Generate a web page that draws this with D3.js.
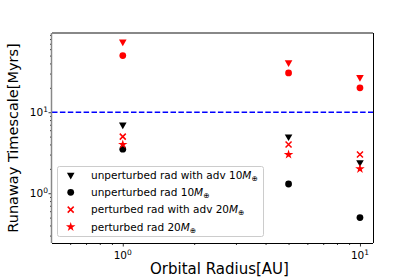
<!DOCTYPE html>
<html>
<head>
<meta charset="utf-8">
<script src="https://cdn.jsdelivr.net/npm/d3@7"></script>
<style>
  body { margin: 0; background: #fff; }
  text { font-family: "DejaVu Sans", sans-serif; }
</style>
</head>
<body>
<div id="chart"></div>
<script>
// orbital radii [AU]
const radii = [1, 5, 10];
// runaway timescales [Myrs]
const unpertAdv10 = [7, 5, 2.4];
const unpert10 = [3.5, 1.3, 0.5];
const pertAdv20 = [5, 4, 3];
const pert20 = [4, 3, 2];
const redTriangles = [74, 41, 27];
const redCircles = [50, 30.5, 20];
const threshold = 10;
const xTicks = [1, 10];
const yTicks = [1, 10];

const legendItems = [
    { shape: "tri", color: "#000", label: "unperturbed rad with adv 10" },
    { shape: "circle", color: "#000", label: "unperturbed rad 10" },
    { shape: "x", color: "#ff0000", label: "perturbed rad with adv 20" },
    { shape: "star", color: "#ff0000", label: "perturbed rad 20" }
];

const W = 415, H = 277;
const m = { left: 52, right: 373, top: 33, bottom: 243 };

const svg = d3.select("#chart").append("svg").attr("width", W).attr("height", H);

const x = d3.scaleLog().domain([0.503, 11.35]).range([m.left, m.right]);
const y = d3.scaleLog().domain([0.243, 95]).range([m.bottom, m.top]);

const sym = {
    tri: d3.symbol().type(d3.symbolTriangle).size(25),
    circle: d3.symbol().type(d3.symbolCircle).size(36),
    star: d3.symbol().type(d3.symbolStar).size(28)
};

function drawMarker(g, shape, color, cx, cy) {
    if (shape === "x") {
        const s = 3;
        g.append("path")
            .attr("d", `M${cx - s},${cy - s}L${cx + s},${cy + s}M${cx - s},${cy + s}L${cx + s},${cy - s}`)
            .attr("stroke", color).attr("stroke-width", 1.5).attr("fill", "none");
    } else {
        const rot = shape === "tri" ? " rotate(180)" : "";
        g.append("path").attr("d", sym[shape]())
            .attr("transform", `translate(${cx},${cy})${rot}`)
            .attr("fill", color);
    }
}

// axes
const xAxis = d3.axisBottom(x).tickValues(xTicks).tickFormat(() => "").tickSize(3.5);
const xMinor = d3.axisBottom(x)
    .tickValues([0.6, 0.7, 0.8, 0.9, 2, 3, 4, 5, 6, 7, 8, 9]).tickFormat(() => "").tickSize(2);
const yAxis = d3.axisLeft(y).tickValues(yTicks).tickFormat(() => "").tickSize(3.5);
const yMinor = d3.axisLeft(y)
    .tickValues([0.3, 0.4, 0.5, 0.6, 0.7, 0.8, 0.9, 2, 3, 4, 5, 6, 7, 8, 9, 20, 30, 40, 50, 60, 70, 80, 90])
    .tickFormat(() => "").tickSize(2);

[xAxis, xMinor].forEach(a => {
    const g = svg.append("g").attr("transform", `translate(0,${m.bottom})`).call(a);
    g.select(".domain").remove();
    g.selectAll("line").attr("stroke", "#000").attr("stroke-width", 0.8);
});
[yAxis, yMinor].forEach(a => {
    const g = svg.append("g").attr("transform", `translate(${m.left},0)`).call(a);
    g.select(".domain").remove();
    g.selectAll("line").attr("stroke", "#000").attr("stroke-width", 0.8);
});

// tick labels
xTicks.forEach(v => {
    const t = svg.append("text").attr("x", x(v)).attr("y", 259)
        .attr("text-anchor", "middle").attr("font-size", 10.5);
    t.append("tspan").text("10");
    t.append("tspan").attr("dy", -4).attr("font-size", 7.5).text(Math.round(Math.log10(v)));
});
yTicks.forEach(v => {
    const t = svg.append("text").attr("x", 48).attr("y", y(v) + 4)
        .attr("text-anchor", "end").attr("font-size", 10.5);
    t.append("tspan").text("10");
    t.append("tspan").attr("dy", -4).attr("font-size", 7.5).text(Math.round(Math.log10(v)));
});

// axis titles
svg.append("text").attr("x", (m.left + m.right) / 2 + 7).attr("y", 273.5)
    .attr("text-anchor", "middle").attr("font-size", 15).text("Orbital Radius[AU]");
svg.append("text").attr("transform", `translate(18,${(m.top + m.bottom) / 2}) rotate(-90)`)
    .attr("text-anchor", "middle").attr("font-size", 14.5).text("Runaway Timescale[Myrs]");

// threshold line
svg.append("line")
    .attr("x1", m.left).attr("x2", m.right).attr("y1", y(threshold)).attr("y2", y(threshold))
    .attr("stroke", "#0000ff").attr("stroke-width", 1.5).attr("stroke-dasharray", "5.5,2.4");

// data points
const pts = svg.append("g");
const series = [
    { data: redTriangles, shape: "tri", color: "#ff0000" },
    { data: redCircles, shape: "circle", color: "#ff0000" },
    { data: unpertAdv10, shape: "tri", color: "#000" },
    { data: unpert10, shape: "circle", color: "#000" },
    { data: pertAdv20, shape: "x", color: "#ff0000" },
    { data: pert20, shape: "star", color: "#ff0000" }
];
series.forEach(s => {
    s.data.forEach((v, i) => drawMarker(pts, s.shape, s.color, x(radii[i]), y(v)));
});

// frame
svg.append("line").attr("x1", m.left).attr("x2", m.right).attr("y1", m.top).attr("y2", m.top)
    .attr("stroke", "#888").attr("stroke-width", 2);
svg.append("line").attr("x1", m.left - 0.5).attr("x2", m.left - 0.5).attr("y1", m.top).attr("y2", m.bottom)
    .attr("stroke", "#888").attr("stroke-width", 1.5);
svg.append("line").attr("x1", m.right + 0.5).attr("x2", m.right + 0.5).attr("y1", m.top).attr("y2", m.bottom)
    .attr("stroke", "#000").attr("stroke-width", 1);
svg.append("line").attr("x1", m.left).attr("x2", m.right).attr("y1", m.bottom + 0.5).attr("y2", m.bottom + 0.5)
    .attr("stroke", "#000").attr("stroke-width", 1);

// legend
const lg = svg.append("g");
lg.append("rect").attr("x", 57.5).attr("y", 166.5).attr("width", 206).attr("height", 70)
    .attr("rx", 2).attr("fill", "#fff").attr("fill-opacity", 0.8)
    .attr("stroke", "#ccc").attr("stroke-width", 1);
legendItems.forEach((d, i) => {
    const cy = 175 + i * 17.3;
    drawMarker(lg, d.shape, d.color, 70.7, cy);
    const t = lg.append("text").attr("x", 91).attr("y", cy + 3.8).attr("font-size", 10.5);
    t.append("tspan").text(d.label);
    t.append("tspan").attr("font-style", "italic").text("M");
    t.append("tspan").attr("dy", 2).attr("font-size", 7.5).text("\u2295");
});
</script>
</body>
</html>
